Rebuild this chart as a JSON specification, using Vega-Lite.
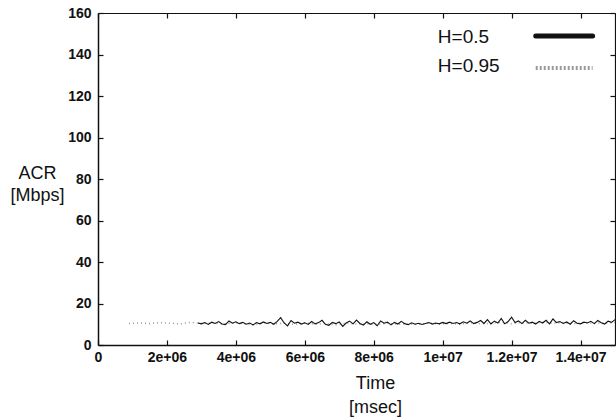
{
  "$schema": "https://vega.github.io/schema/vega-lite/v6.json",
  "width": 517,
  "height": 332,
  "autosize": {"type": "none"},
  "padding": {"left": 98, "top": 13, "right": 1, "bottom": 75},
  "background": "white",
  "config": {
    "view": {"stroke": null},
    "font": "Liberation Sans",
    "axis": {
      "grid": false,
      "domainColor": "#111",
      "domainWidth": 1.5,
      "tickColor": "#111",
      "tickWidth": 1.2,
      "tickSize": -5,
      "labelFont": "Liberation Sans",
      "labelFontSize": 14,
      "labelFontWeight": "bold",
      "labelColor": "#111",
      "titleFont": "Liberation Sans",
      "titleFontSize": 18,
      "titleFontWeight": "normal",
      "titleColor": "#111"
    }
  },
  "datasets": {
    "h05": [
      {"t":2900000,"acr":10.6},{"t":3000000,"acr":10.2},{"t":3100000,"acr":10.8},{"t":3200000,"acr":9.9},{"t":3300000,"acr":11.0},{"t":3400000,"acr":10.4},{"t":3500000,"acr":11.3},{"t":3600000,"acr":10.1},{"t":3700000,"acr":9.8},{"t":3800000,"acr":11.6},{"t":3900000,"acr":10.5},
      {"t":4000000,"acr":11.2},{"t":4100000,"acr":10.3},{"t":4200000,"acr":10.9},{"t":4300000,"acr":10.0},{"t":4400000,"acr":10.6},{"t":4500000,"acr":9.7},{"t":4600000,"acr":10.8},{"t":4700000,"acr":10.2},{"t":4800000,"acr":11.1},{"t":4900000,"acr":10.4},
      {"t":5000000,"acr":10.9},{"t":5100000,"acr":10.0},{"t":5200000,"acr":11.4},{"t":5300000,"acr":13.2},{"t":5400000,"acr":10.6},{"t":5500000,"acr":9.2},{"t":5600000,"acr":11.8},{"t":5700000,"acr":10.5},{"t":5800000,"acr":11.0},{"t":5900000,"acr":10.1},
      {"t":6000000,"acr":10.7},{"t":6100000,"acr":9.9},{"t":6200000,"acr":11.3},{"t":6300000,"acr":10.2},{"t":6400000,"acr":10.8},{"t":6500000,"acr":11.9},{"t":6600000,"acr":10.0},{"t":6700000,"acr":9.5},{"t":6800000,"acr":10.9},{"t":6900000,"acr":10.3},
      {"t":7000000,"acr":11.1},{"t":7100000,"acr":9.0},{"t":7200000,"acr":10.6},{"t":7300000,"acr":11.5},{"t":7400000,"acr":10.2},{"t":7500000,"acr":12.0},{"t":7600000,"acr":10.4},{"t":7700000,"acr":9.6},{"t":7800000,"acr":11.2},{"t":7900000,"acr":10.0},
      {"t":8000000,"acr":10.8},{"t":8100000,"acr":9.3},{"t":8200000,"acr":11.6},{"t":8300000,"acr":10.5},{"t":8400000,"acr":11.0},{"t":8500000,"acr":9.7},{"t":8600000,"acr":10.9},{"t":8700000,"acr":10.1},{"t":8800000,"acr":11.4},{"t":8900000,"acr":10.3},
      {"t":9000000,"acr":9.8},{"t":9100000,"acr":10.7},{"t":9200000,"acr":10.0},{"t":9300000,"acr":10.5},{"t":9400000,"acr":9.9},{"t":9500000,"acr":10.4},{"t":9600000,"acr":10.8},{"t":9700000,"acr":10.1},{"t":9800000,"acr":10.6},{"t":9900000,"acr":10.2},
      {"t":10000000,"acr":10.9},{"t":10100000,"acr":10.3},{"t":10200000,"acr":11.0},{"t":10300000,"acr":10.4},{"t":10400000,"acr":10.8},{"t":10500000,"acr":10.2},{"t":10600000,"acr":11.2},{"t":10700000,"acr":10.5},{"t":10800000,"acr":11.6},{"t":10900000,"acr":10.3},
      {"t":11000000,"acr":10.9},{"t":11100000,"acr":11.8},{"t":11200000,"acr":10.4},{"t":11300000,"acr":12.2},{"t":11400000,"acr":10.1},{"t":11500000,"acr":11.5},{"t":11600000,"acr":10.6},{"t":11700000,"acr":12.8},{"t":11800000,"acr":10.2},{"t":11900000,"acr":11.3},
      {"t":12000000,"acr":13.4},{"t":12100000,"acr":10.8},{"t":12200000,"acr":11.6},{"t":12300000,"acr":10.3},{"t":12400000,"acr":11.9},{"t":12500000,"acr":10.5},{"t":12600000,"acr":11.0},{"t":12700000,"acr":10.1},{"t":12800000,"acr":11.4},{"t":12900000,"acr":10.6},
      {"t":13000000,"acr":11.9},{"t":13100000,"acr":10.2},{"t":13200000,"acr":12.6},{"t":13300000,"acr":10.8},{"t":13400000,"acr":11.3},{"t":13500000,"acr":10.4},{"t":13600000,"acr":11.1},{"t":13700000,"acr":10.0},{"t":13800000,"acr":11.7},{"t":13900000,"acr":10.5},
      {"t":14000000,"acr":10.2},{"t":14100000,"acr":11.0},{"t":14200000,"acr":10.6},{"t":14300000,"acr":11.4},{"t":14400000,"acr":10.3},{"t":14500000,"acr":11.8},{"t":14600000,"acr":10.7},{"t":14700000,"acr":10.1},{"t":14800000,"acr":11.5},{"t":14900000,"acr":10.9},{"t":15000000,"acr":12.2}
    ],
    "h095": [
      {"t":900000,"acr":10.4},{"t":1200000,"acr":10.6},{"t":1500000,"acr":10.3},{"t":1800000,"acr":10.8},{"t":2100000,"acr":10.5},{"t":2400000,"acr":10.2},{"t":2700000,"acr":10.9},{"t":3000000,"acr":10.4},
      {"t":3300000,"acr":10.7},{"t":3600000,"acr":10.1},{"t":3900000,"acr":10.6},{"t":4200000,"acr":10.3},{"t":4500000,"acr":9.6},{"t":4800000,"acr":10.8},{"t":5100000,"acr":10.2},{"t":5400000,"acr":10.5},
      {"t":5700000,"acr":9.9},{"t":6000000,"acr":10.7},{"t":6300000,"acr":10.0},{"t":6600000,"acr":10.4},{"t":6900000,"acr":9.7},{"t":7200000,"acr":10.6},{"t":7500000,"acr":10.1},{"t":7800000,"acr":10.3},
      {"t":8100000,"acr":9.8},{"t":8400000,"acr":10.5},{"t":8700000,"acr":10.0},{"t":9000000,"acr":10.2},{"t":9300000,"acr":9.9},{"t":9600000,"acr":10.6},{"t":9900000,"acr":10.1},{"t":10200000,"acr":10.4},
      {"t":10500000,"acr":10.0},{"t":10800000,"acr":10.7},{"t":11100000,"acr":10.2},{"t":11400000,"acr":10.5},{"t":11700000,"acr":10.9},{"t":12000000,"acr":10.3},{"t":12300000,"acr":10.8},{"t":12600000,"acr":10.4},
      {"t":12900000,"acr":11.0},{"t":13200000,"acr":10.5},{"t":13500000,"acr":10.7},{"t":13800000,"acr":10.2},{"t":14100000,"acr":10.9},{"t":14400000,"acr":10.4},{"t":14700000,"acr":10.6},{"t":15000000,"acr":10.8}
    ]
  },
  "resolve": {"axis": {"x": "independent", "y": "independent"}},
  "layer": [
    {
      "data": {"name": "h095"},
      "mark": {"type": "line", "color": "#9a9a9a", "strokeWidth": 1.5, "strokeDash": [1, 3]},
      "encoding": {
        "x": {
          "field": "t", "type": "quantitative",
          "scale": {"domain": [0, 15000000], "nice": false, "zero": false},
          "axis": {
            "orient": "bottom",
            "values": [0, 2000000, 4000000, 6000000, 8000000, 10000000, 12000000, 14000000],
            "labelExpr": "datum.value == 0 ? '0' : (datum.value < 10000000 ? format(datum.value / 1000000, '.2~g') + 'e+06' : format(datum.value / 10000000, '.2~g') + 'e+07')",
            "labelPadding": 10,
            "labelFlush": false,
            "title": ["Time", "[msec]"],
            "titleX": 277,
            "titleY": 43,
            "titleAlign": "center",
            "titleAnchor": null,
            "titleBaseline": "alphabetic",
            "titleLineHeight": 24
          }
        },
        "y": {
          "field": "acr", "type": "quantitative",
          "scale": {"domain": [0, 160], "nice": false},
          "axis": {
            "orient": "left",
            "values": [0, 20, 40, 60, 80, 100, 120, 140, 160],
            "labelPadding": 12,
            "labelBaseline": "middle",
            "labelFlush": false,
            "title": ["ACR", "[Mbps]"],
            "titleAngle": 0,
            "titleX": -61,
            "titleY": 165,
            "titleAlign": "center",
            "titleAnchor": null,
            "titleBaseline": "alphabetic",
            "titleLineHeight": 22
          }
        }
      }
    },
    {
      "data": {"name": "h05"},
      "mark": {"type": "line", "color": "#111", "strokeWidth": 1.1},
      "encoding": {
        "x": {
          "field": "t", "type": "quantitative",
          "axis": {
            "orient": "top",
            "values": [0, 2000000, 4000000, 6000000, 8000000, 10000000, 12000000, 14000000],
            "labels": false,
            "title": null,
            "domainWidth": 1.2
          }
        },
        "y": {
          "field": "acr", "type": "quantitative",
          "axis": {
            "orient": "right",
            "values": [0, 20, 40, 60, 80, 100, 120, 140, 160],
            "labels": false,
            "title": null,
            "domainWidth": 1.2
          }
        }
      }
    },
    {
      "data": {"values": [{"series": "H=0.5"}]},
      "mark": {"type": "text", "align": "left", "baseline": "middle", "fontSize": 19, "color": "#111"},
      "encoding": {
        "text": {"field": "series"},
        "x": {"datum": 9860000, "type": "quantitative", "axis": null},
        "y": {"datum": 148.2, "type": "quantitative", "axis": null}
      }
    },
    {
      "data": {"values": [{"series": "H=0.95"}]},
      "mark": {"type": "text", "align": "left", "baseline": "middle", "fontSize": 19, "color": "#111"},
      "encoding": {
        "text": {"field": "series"},
        "x": {"datum": 9860000, "type": "quantitative", "axis": null},
        "y": {"datum": 134.3, "type": "quantitative", "axis": null}
      }
    },
    {
      "data": {"values": [{"series": "H=0.5"}]},
      "mark": {"type": "rule", "color": "#111", "strokeWidth": 5, "strokeCap": "round"},
      "encoding": {
        "x": {"datum": 12700000, "type": "quantitative", "axis": null},
        "x2": {"datum": 14350000},
        "y": {"datum": 148.9, "type": "quantitative", "axis": null}
      }
    },
    {
      "data": {"values": [{"series": "H=0.95"}]},
      "mark": {"type": "rule", "color": "#9a9a9a", "strokeWidth": 4, "strokeDash": [2, 2]},
      "encoding": {
        "x": {"datum": 12700000, "type": "quantitative", "axis": null},
        "x2": {"datum": 14350000},
        "y": {"datum": 133.5, "type": "quantitative", "axis": null}
      }
    }
  ]
}
